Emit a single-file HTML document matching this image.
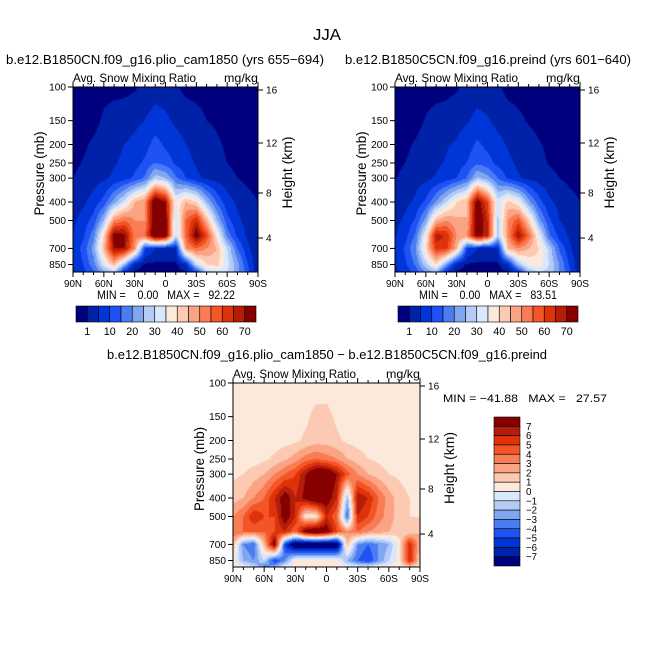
<!DOCTYPE html>
<html><head><meta charset="utf-8">
<style>
html,body{margin:0;padding:0;background:#fff;}
#wrap{position:relative;width:654px;height:654px;overflow:hidden;}
canvas{position:absolute;}
svg{position:absolute;left:0;top:0;}
text{font-family:"Liberation Sans",sans-serif;fill:#000;white-space:pre;}
</style></head>
<body>
<div id="wrap">
<canvas id="c1"></canvas>
<canvas id="c2"></canvas>
<canvas id="c3"></canvas>
<svg id="svg" width="654" height="654"></svg>
</div>
<script>
// ---- data ----
const latitudes = [90,80,70,60,50,40,30,20,10,0,-10,-20,-30,-40,-50,-60,-70,-80,-90];
const pressureLevels = [100,150,200,250,300,400,500,600,700,850,930];
const plioValues = [
 [0,0,0,0,0,0,0.5,2,3,2.5,1.5,0,0,0,0,0,0,0,0],
 [0,0,0,1.5,2.5,3,4,5,7,6,4,3,2,1,0.5,0,0,0,0],
 [0,0.5,1.5,2.5,3.5,5,6,8,12,9,7,5,3.5,2.5,1.5,0.5,0,0,0],
 [0.3,1.2,2,3,4.5,6,8,11,15,13,9,6.5,4.5,3,2,1,0.3,0,0],
 [1,2,3,4,6,8,11,16,28,25,16,10,6,4,3,2,1,0.3,0],
 [2,4,7,12,22,32,45,50,80,70,35,45,40,25,14,7,4,2,1],
 [4,7,12,25,50,55,50,50,80,75,30,55,65,45,25,12,6,3,1.5],
 [5,9,18,40,75,72,52,55,80,75,30,55,75,60,38,18,9,4,2],
 [6,12,22,45,70,70,50,10,5,5,5,50,55,50,45,30,15,6,1],
 [5,10,18,32,45,25,3,0.5,0.3,0.3,0.3,5,30,40,42,32,22,10,1],
 [4,8,14,22,28,6,0.5,0,0,0,0,0.5,10,28,32,30,22,12,1]
];
const preindValues = [
 [0,0,0,0,0,0,0.5,2,2.5,2,1.5,0,0,0,0,0,0,0,0],
 [0,0,0,1.2,2,2.5,3.5,4.5,6.5,5.5,3.5,2.5,1.5,0.8,0.3,0,0,0,0],
 [0,0.5,1.3,2.2,3,4.5,5.5,7.5,11,8.5,6.5,4.5,3,2,1.2,0.5,0,0,0],
 [0.3,1,1.8,2.8,4,5.5,7.5,10,14,12,8.5,6,4,2.8,1.8,0.8,0.3,0,0],
 [0.8,1.8,2.8,3.8,5.5,7.5,10,15,26,22,15,9,5.5,3.8,2.8,1.8,1,0.3,0],
 [2,3.5,6,11,20,30,40,45,75,60,32,42,36,22,12,6,3.5,2,1],
 [3.5,6,11,22,45,50,46,45,78,65,28,50,58,42,22,11,5,3,1.5],
 [4.5,8,16,36,68,64,50,50,75,65,28,50,70,55,35,16,8,4,2],
 [5.5,11,20,40,62,62,45,10,5,5,5,45,50,45,40,28,14,6,1],
 [4.5,9,16,28,40,22,3,0.5,0.3,0.3,0.3,5,26,36,38,30,20,9,1],
 [3.5,7,12,20,25,5,0.5,0,0,0,0,0.5,8,25,30,28,20,11,1]
];
const diffValues = [
 [0.5,0.5,0.5,0.5,0.5,0.5,0.5,0.5,0.5,0.5,0.5,0.5,0.5,0.5,0.5,0.5,0.5,0.5,0.5],
 [0.5,0.5,0.5,0.5,0.5,0.5,0.5,0.8,1.3,1.3,0.8,0.5,0.5,0.5,0.5,0.5,0.5,0.5,0.5],
 [0.5,0.5,0.5,0.5,0.5,0.6,0.8,1.2,1.5,1.5,1.2,0.8,0.6,0.5,0.5,0.5,0.5,0.5,0.5],
 [0.5,0.5,0.5,0.8,1.2,1.8,2.5,3.5,4,3.5,3,2,1.5,1,0.8,0.5,0.5,0.5,0.5],
 [0.8,1,1.5,2,3,4,5,7,9,9,7,4.5,3,2,1.5,1,0.8,0.5,0.5],
 [1.5,2,3,4,6,8,6,7.5,9,8,6,-2,7,6,4,2.5,1.5,1,0.8],
 [3,4,6,5,5,8,6,0.5,0.5,6,4,-4,6,5,3.5,2.5,1.5,1,1],
 [4,4,4,4,5,6,4,8,9,8,5,3,4,3,2.5,2,1.5,1,2],
 [2,-3,-4,2,8,-5,-9,-9,-9,-9,-9,2,-3,-4,-3,-2,0.5,6,2],
 [0.5,-2,-3,-1,-5,-3,0.5,0.5,0.5,0.5,0.5,-2,-4,-5,-3,-1,0.5,6,1],
 [0.5,0.5,-0.5,-4,-2,0.5,0.5,0.5,0.5,0.5,0.5,0.5,0.5,0.5,0.5,0.5,0.5,0.5,0.5]
];
const absLevels = [1,5,10,15,20,25,30,35,40,45,50,55,60,65,70];
const absLabels = ["1","10","20","30","40","50","60","70"];
const diffLevels = [-7,-6,-5,-4,-3,-2,-1,0,1,2,3,4,5,6,7];
const diffLabels = ["7","6","5","4","3","2","1","0","\u22121","\u22122","\u22123","\u22124","\u22125","\u22126","\u22127"];
const pressureTicks = [100,150,200,250,300,400,500,700,850];
const heightTicks = [16,12,8,4];
const latTicks = ["90N","60N","30N","0","30S","60S","90S"];
const palette = ["#00007f","#0022a8","#0036d8","#1f52f4","#4a7cf2","#80a6f2","#b4cbf8","#d9e8fd",
 "#fde9dc","#fcc9b2","#fba483","#f97c54","#f45526","#de330a","#b31d0a","#860000"];

// ---- helpers ----
const NS="http://www.w3.org/2000/svg";
const svg=document.getElementById('svg');
function el(tag,attrs,parent){const e=document.createElementNS(NS,tag);for(const k in attrs)e.setAttribute(k,attrs[k]);(parent||svg).appendChild(e);return e;}
function txt(x,y,s,size,anchor,parent,len){const a={x:x,y:y,'font-size':size,'text-anchor':anchor||'start'};if(len){a.textLength=len;a.lengthAdjust='spacingAndGlyphs';}const t=el('text',a,parent);t.textContent=s;return t;}
const PXDEC=191;
function pToFrac(p,h){return Math.log10(p/100)*PXDEC/h;}
function latToFrac(l){return (90-l)/180;}
function sample(grid,lat,p){
  let fi=(90-lat)/10; fi=Math.max(0,Math.min(latitudes.length-1,fi));
  let i0=Math.floor(fi); if(i0>=latitudes.length-1)i0=latitudes.length-2; const tx=fi-i0;
  const lp=Math.log(p); let j0=0;
  for(let j=0;j<pressureLevels.length-1;j++){ if(p>=pressureLevels[j]) j0=j; }
  if(j0>pressureLevels.length-2)j0=pressureLevels.length-2;
  let ty=(lp-Math.log(pressureLevels[j0]))/(Math.log(pressureLevels[j0+1])-Math.log(pressureLevels[j0]));
  ty=Math.max(0,Math.min(1,ty));
  const a=grid[j0][i0],b=grid[j0][i0+1],c=grid[j0+1][i0],d=grid[j0+1][i0+1];
  return (a*(1-tx)+b*tx)*(1-ty)+(c*(1-tx)+d*tx)*ty;
}
function hexRGB(h){return [parseInt(h.substr(1,2),16),parseInt(h.substr(3,2),16),parseInt(h.substr(5,2),16)];}
const palRGB=palette.map(hexRGB);
function cls(v,levels){let k=0;while(k<levels.length&&v>=levels[k])k++;return k;}
function drawField(id,grid,levels,x0,y0,w,h){
  const c=document.getElementById(id);c.width=w;c.height=h;c.style.left=x0+'px';c.style.top=y0+'px';
  const ctx=c.getContext('2d');const im=ctx.createImageData(w,h);
  for(let y=0;y<h;y++){const p=100*Math.pow(10,(y+0.5)/PXDEC);
    for(let x=0;x<w;x++){const lat=90-(x+0.5)/w*180;const v=sample(grid,lat,p);
      const col=palRGB[cls(v,levels)];const o=(y*w+x)*4;im.data[o]=col[0];im.data[o+1]=col[1];im.data[o+2]=col[2];im.data[o+3]=255;}}
  ctx.putImageData(im,0,0);
}
function axes(x0,y0,w,h,name){
  const g=el('g',{});
  
  
  el('rect',{x:x0,y:y0,width:w,height:h,fill:'none',stroke:'#000','stroke-width':1},g);
  txt(x0,y0-5,'Avg. Snow Mixing Ratio',12,'start',g,123);
  txt(x0+w,y0-5,'mg/kg',12,'end',g,34);
  pressureTicks.forEach(p=>{const y=y0+pToFrac(p,h)*h;
    el('line',{x1:x0-5,x2:x0,y1:y,y2:y,stroke:'#000'},g);
    txt(x0-7,y+3.5,String(p),10,'end',g,String(p).length*5.6);});
  const hPos=[3,56,106,151];
  heightTicks.forEach((k,i)=>{const y=y0+hPos[i];
    el('line',{x1:x0+w,x2:x0+w+5,y1:y,y2:y,stroke:'#000'},g);
    txt(x0+w+8,y+3.5,String(k),10,'start',g,String(k).length*5.6);});
  for(let l=90;l>=-90;l-=10){const x=x0+latToFrac(l)*w;const big=(l%30===0);
    el('line',{x1:x,x2:x,y1:y0+h,y2:y0+h+(big?5:3),stroke:'#000'},g);
    el('line',{x1:x,x2:x,y1:y0,y2:y0-(big?5:3),stroke:'#000'},g);}
  latTicks.forEach((s,i)=>{const x=x0+i/6*w;txt(x,y0+h+15,s,10,'middle',g,s.length*6);});
  const yl=el('text',{x:0,y:0,'font-size':14,'text-anchor':'middle',textLength:84,lengthAdjust:'spacingAndGlyphs',transform:`translate(${x0-29},${y0+h/2-6}) rotate(-90)`},g);yl.textContent='Pressure (mb)';
  const yr=el('text',{x:0,y:0,'font-size':14,'text-anchor':'middle',textLength:72,lengthAdjust:'spacingAndGlyphs',transform:`translate(${x0+w+34},${y0+h/2-7}) rotate(-90)`},g);yr.textContent='Height (km)';
}
function hbar(x0,y0,w,h,name){
  const g=el('g',{});
  
  
  const bw=w/palette.length;
  palette.forEach((c,i)=>el('rect',{x:x0+i*bw,y:y0,width:bw,height:h,fill:c,stroke:'#000','stroke-width':0.6},g));
  absLabels.forEach((s,i)=>txt(x0+(2*i+1)*bw,y0+h+13,s,11,'middle',g,s.length*6));
}
// ---- text ----
txt(327,40,'JJA',16,'middle',null,28);
const s1=txt(165,64,'b.e12.B1850CN.f09_g16.plio_cam1850 (yrs 655\u2212694)',13,'middle',null,318);
const s2=txt(488,64,'b.e12.B1850C5CN.f09_g16.preind (yrs 601\u2212640)',13,'middle',null,286);
const s3=txt(327,359,'b.e12.B1850CN.f09_g16.plio_cam1850 \u2212 b.e12.B1850C5CN.f09_g16.preind',13,'middle',null,440);

drawField('c1',plioValues,absLevels,73,87,185,185);
drawField('c2',preindValues,absLevels,395,87,185,185);
drawField('c3',diffValues,diffLevels,233,383,187,184);
axes(73,87,185,185,'plio-axes');
axes(395,87,185,185,'preind-axes');
axes(233,383,187,184,'difference-axes');
txt(97,299,'MIN =    0.00   MAX =   92.22',12,'start',null,138);
txt(419,299,'MIN =    0.00   MAX =   83.51',12,'start',null,138);
txt(443,402,'MIN = \u221241.88   MAX =   27.57',11,'start',null,164);
hbar(76,306,180,16,'plio-colorbar');
hbar(398,306,180,16,'preind-colorbar');
(function(){
  const g=el('g',{});
  
  
  const x0=494,y0=417,w=26,h=149,bh=h/palette.length;
  for(let i=0;i<palette.length;i++){el('rect',{x:x0,y:y0+i*bh,width:w,height:bh,fill:palette[palette.length-1-i],stroke:'#000','stroke-width':0.6},g);}
  diffLabels.forEach((s,i)=>txt(x0+w+6,y0+(i+1)*bh+3.5,s,10,'start',g,s.length*5.5));
})();
</script>
</body></html>
